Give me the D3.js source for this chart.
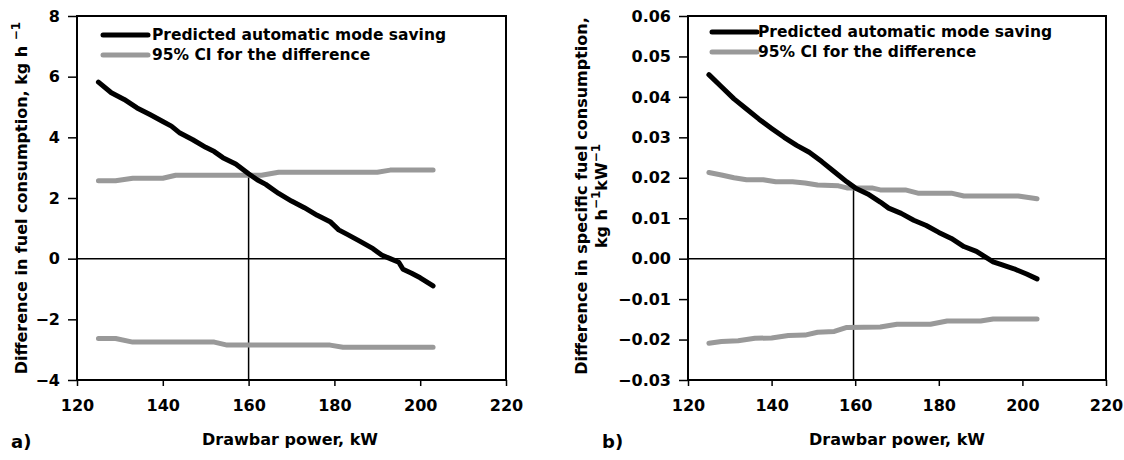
<!DOCTYPE html>
<html>
<head>
<meta charset="utf-8">
<script src="https://cdn.jsdelivr.net/npm/d3@7/dist/d3.min.js"></script>
<style>
  body { margin: 0; background: #fff; }
  text { font-family: "DejaVu Sans", sans-serif; font-weight: bold; fill: #000; }
</style>
</head>
<body>
<script>
// x values shared by the two panels (drawbar power, kW)
const xTicks = [120, 140, 160, 180, 200, 220];

// panel a) difference in fuel consumption, kg/h
const aTicks = [-4, -2, 0, 2, 4, 6, 8];
const aSaving = [
  [125, 5.82], [128, 5.47], [131, 5.25], [134, 4.97], [137, 4.75], [140, 4.52],
  [142, 4.37], [144, 4.14], [147, 3.92], [150, 3.67], [152, 3.53], [154, 3.33],
  [157, 3.12], [160, 2.80], [162, 2.60], [164, 2.45], [167, 2.15], [170, 1.90],
  [173, 1.68], [176, 1.43], [179, 1.22], [181, 0.95], [183, 0.80], [186, 0.57],
  [189, 0.33], [191, 0.12], [193, 0.00], [195, -0.12], [196, -0.35], [198, -0.48],
  [200, -0.63], [203, -0.90]
];
const aUpper = [
  [125, 2.57], [129, 2.57], [133, 2.65], [140, 2.65], [143, 2.75], [163, 2.75],
  [167, 2.85], [190, 2.85], [193, 2.92], [203, 2.92]
];
const aLower = [
  [125, -2.63], [129, -2.63], [133, -2.75], [152, -2.75], [155, -2.85], [179, -2.85],
  [182, -2.92], [203, -2.92]
];
const aCross = [160, 2.78];

// panel b) difference in specific fuel consumption, kg/h/kW
const bTicks = [-0.03, -0.02, -0.01, 0, 0.01, 0.02, 0.03, 0.04, 0.05, 0.06];
const bSaving = [
  [125, 0.0455], [128, 0.0425], [131, 0.0395], [134, 0.0370], [137, 0.0345],
  [140, 0.0322], [143, 0.0300], [146, 0.0280], [149, 0.0263], [152, 0.0240],
  [155, 0.0215], [158, 0.0190], [160, 0.0175], [163, 0.0160], [166, 0.0140],
  [168, 0.0125], [171, 0.0112], [174, 0.0095], [177, 0.0082], [180, 0.0065],
  [183, 0.0050], [186, 0.0030], [189, 0.0018], [191, 0.0005], [193, -0.0008],
  [195, -0.0015], [198, -0.0025], [201, -0.0038], [203.5, -0.0050]
];
const bUpper = [
  [125, 0.0213], [128, 0.0207], [131, 0.0200], [134, 0.0195], [138, 0.0195],
  [141, 0.0190], [145, 0.0190], [148, 0.0187], [151, 0.0182], [156, 0.0180],
  [158, 0.0175], [164, 0.0175], [166, 0.0170], [172, 0.0170], [175, 0.0162],
  [183, 0.0162], [186, 0.0155], [199, 0.0155], [203.5, 0.0148]
];
const bLower = [
  [125, -0.0209], [128, -0.0205], [132, -0.0203], [136, -0.0197], [140, -0.0196],
  [144, -0.0190], [148, -0.0189], [151, -0.0182], [155, -0.0180], [158, -0.0170],
  [166, -0.0169], [170, -0.0162], [178, -0.0162], [182, -0.0154], [190, -0.0154],
  [193, -0.0149], [203.5, -0.0149]
];
const bCross = [159.6, 0.0176];

const legendLabels = ["Predicted automatic mode saving", "95% CI for the difference"];

const svg = d3.select("body").append("svg")
  .attr("width", 1124)
  .attr("height", 460);

function draw_panel(p) {
  const g = svg.append("g");
  const x = d3.scaleLinear().domain([120, 220]).range([p.left, p.right]);
  const y = d3.scaleLinear().domain(p.yDomain).range([380, 16]);

  // axes
  g.append("g")
    .attr("transform", "translate(" + p.left + ",0)")
    .call(d3.axisLeft(y).tickValues(p.yTicks).tickSize(9).tickPadding(8).tickFormat(p.fmt))
    .call(a => a.select(".domain").remove())
    .call(a => a.selectAll("line").attr("stroke-width", 1.5))
    .call(a => a.selectAll("text").attr("font-size", 16).attr("font-family", null));

  g.append("g")
    .attr("transform", "translate(0,380)")
    .call(d3.axisBottom(x).tickValues(xTicks).tickSize(6).tickPadding(14))
    .call(a => a.select(".domain").remove())
    .call(a => a.selectAll("line").attr("stroke-width", 1.5))
    .call(a => a.selectAll("text").attr("font-size", 16).attr("font-family", null));

  // frame
  g.append("rect")
    .attr("x", p.left).attr("y", 16)
    .attr("width", p.right - p.left).attr("height", 364)
    .attr("fill", "none").attr("stroke", "#000").attr("stroke-width", 2);

  // zero line
  g.append("line")
    .attr("x1", p.left).attr("x2", p.right)
    .attr("y1", y(0)).attr("y2", y(0))
    .attr("stroke", "#000").attr("stroke-width", 1.5);

  // vertical marker at the crossing point
  g.append("line")
    .attr("x1", x(p.cross[0])).attr("x2", x(p.cross[0]))
    .attr("y1", y.range()[0]).attr("y2", y(p.cross[1]))
    .attr("stroke", "#000").attr("stroke-width", 1.5);

  const line = d3.line().x(d => x(d[0])).y(d => y(d[1]));

  [p.upper, p.lower].forEach(s => {
    g.append("path").datum(s)
      .attr("d", line)
      .attr("fill", "none").attr("stroke", "#999")
      .attr("stroke-width", 5).attr("stroke-linecap", "round").attr("stroke-linejoin", "round");
  });
  g.append("path").datum(p.saving)
    .attr("d", line)
    .attr("fill", "none").attr("stroke", "#000")
    .attr("stroke-width", 5).attr("stroke-linecap", "round").attr("stroke-linejoin", "round");

  // legend
  const colors = ["#000", "#999"];
  legendLabels.forEach((t, i) => {
    const ly = p.legY + i * 20;
    g.append("line")
      .attr("x1", p.legX).attr("x2", p.legX + 45)
      .attr("y1", ly).attr("y2", ly)
      .attr("stroke", colors[i]).attr("stroke-width", 5).attr("stroke-linecap", "round");
    g.append("text")
      .attr("x", p.legX + 45 + p.legGap).attr("y", ly + 5)
      .attr("font-size", 15.5)
      .text(t);
  });

  // x title
  g.append("text")
    .attr("x", p.xTitleX).attr("y", 445)
    .attr("text-anchor", "middle")
    .attr("font-size", 16)
    .text("Drawbar power, kW");

  // panel letter
  g.append("text")
    .attr("x", p.letterX).attr("y", 448)
    .attr("font-size", 18)
    .text(p.letter);

  return { x, y, g };
}

// panel a
const pa = draw_panel({
  left: 77, right: 506, yDomain: [-4, 8], yTicks: aTicks, fmt: d3.format("d"),
  saving: aSaving, upper: aUpper, lower: aLower, cross: aCross,
  legX: 103, legY: 35, legGap: 4, xTitleX: 290, letterX: 11, letter: "a)"
});
pa.g.append("text")
  .attr("transform", "translate(27,198) rotate(-90)")
  .attr("text-anchor", "middle")
  .attr("font-size", 16)
  .call(t => {
    t.append("tspan").text("Difference in fuel consumption, kg h ");
    t.append("tspan").attr("dy", -7).attr("font-size", 12).text("\u22121");
  });

// panel b
const pb = draw_panel({
  left: 688, right: 1106, yDomain: [-0.03, 0.06], yTicks: bTicks, fmt: d3.format(".2f"),
  saving: bSaving, upper: bUpper, lower: bLower, cross: bCross,
  legX: 712, legY: 32, legGap: 1, xTitleX: 897, letterX: 602, letter: "b)"
});
pb.g.append("text")
  .attr("transform", "translate(587,196) rotate(-90)")
  .attr("text-anchor", "middle")
  .attr("font-size", 16)
  .text("Difference in specific fuel consumption,");
pb.g.append("text")
  .attr("transform", "translate(607,196) rotate(-90)")
  .attr("text-anchor", "middle")
  .attr("font-size", 16)
  .call(t => {
    t.append("tspan").text("kg h");
    t.append("tspan").attr("dy", -7).attr("font-size", 12).text("\u22121");
    t.append("tspan").attr("dy", 7).text("kW");
    t.append("tspan").attr("dy", -7).attr("font-size", 12).text("\u22121");
  });
</script>
</body>
</html>
